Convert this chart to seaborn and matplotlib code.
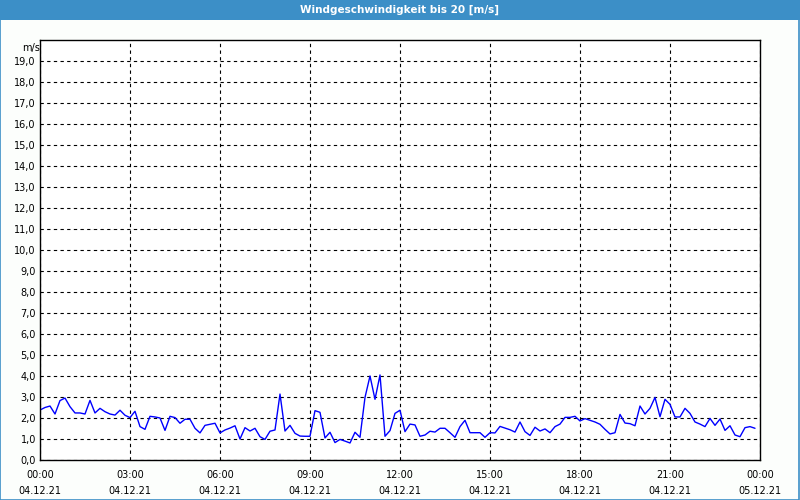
import numpy as np
import pandas as pd
import matplotlib
matplotlib.use("Agg")
import matplotlib.pyplot as plt
from matplotlib.ticker import MultipleLocator
import seaborn as sns

title = "Windgeschwindigkeit bis 20 [m/s]"
unit = "m/s"
x_tick_times = ["00:00", "03:00", "06:00", "09:00", "12:00", "15:00", "18:00", "21:00", "00:00"]
x_tick_dates = ["04.12.21"] * 8 + ["05.12.21"]

speed_00_08 = [2.38, 2.5, 2.57, 2.19, 2.83, 2.95, 2.54, 2.24, 2.24, 2.19, 2.84, 2.24, 2.46, 2.3, 2.19, 2.14, 2.37, 2.13,
               2.02, 2.32, 1.59, 1.46, 2.08, 2.05, 2.0, 1.41, 2.08, 2.02, 1.75, 1.94, 1.94, 1.51, 1.29, 1.65, 1.7, 1.75,
               1.29, 1.43, 1.52, 1.63, 1.0, 1.54, 1.38, 1.51, 1.11, 0.98, 1.37, 1.43]
speed_08_16 = [3.14, 1.38, 1.65, 1.27, 1.14, 1.13,
               1.13, 2.35, 2.27, 1.05, 1.32, 0.83, 0.98, 0.9, 0.81, 1.32, 1.08, 2.98, 4.0, 2.89, 4.05, 1.13, 1.4, 2.22,
               2.37, 1.35, 1.71, 1.67, 1.13, 1.19, 1.37, 1.33, 1.51, 1.51, 1.3, 1.08, 1.59, 1.89, 1.3, 1.3, 1.3, 1.08,
               1.3, 1.29, 1.6, 1.52, 1.44, 1.33]
speed_16_24 = [1.81, 1.35, 1.17, 1.56, 1.38, 1.48, 1.3, 1.59, 1.71, 2.03, 2.03, 2.08,
               1.86, 1.97, 1.89, 1.81, 1.7, 1.46, 1.24, 1.3, 2.17, 1.76, 1.73, 1.63, 2.57, 2.19, 2.46, 2.98, 2.06, 2.89,
               2.65, 2.05, 2.05, 2.46, 2.22, 1.81, 1.71, 1.59, 1.98, 1.65, 1.95, 1.41, 1.63, 1.19, 1.11, 1.54, 1.59, 1.51]

speed = speed_00_08 + speed_08_16 + speed_16_24
hours = [i / 6.0 for i in range(len(speed))]
df = pd.DataFrame({"h": hours, "v": speed})

sns.set_style("white")
plt.rcParams['font.family'] = ['DejaVu Sans']

fig = plt.figure(figsize=(8, 5), dpi=100, facecolor="#fcfefc")
ax = fig.add_axes([0.05, 0.08, 0.90, 0.84])
ax.set_facecolor("white")

sns.lineplot(data=df, x="h", y="v", ax=ax, color="#0000ff", linewidth=1.0)

ax.set_xlim(0, 24)
ax.set_ylim(0, 20)
ax.set_xlabel("")
ax.set_ylabel("")

ax.set_yticks(np.arange(0, 20, 1))
ax.set_yticklabels([f"{v:.1f}".replace(".", ",") for v in np.arange(0, 20, 1)], fontsize=7)
ax.set_xticks(np.arange(0, 25, 3))
ax.set_xticklabels([f"{t}\n{d}" for t, d in zip(x_tick_times, x_tick_dates)], fontsize=7, linespacing=1.8)
ax.xaxis.set_minor_locator(MultipleLocator(1))
ax.tick_params(axis="x", which="both", direction="out", length=3, width=0.8, color="black",
               labelcolor="black", pad=4)
ax.tick_params(axis="y", which="both", length=0, pad=3, labelcolor="black")

ax.grid(True, which="major", color="black", linestyle=(0, (3, 3)), linewidth=0.8)
for sp in ax.spines.values():
    sp.set_visible(True)
    sp.set_color("black")
    sp.set_linewidth(1.0)

ax.text(-0.004, 19.85, unit, transform=ax.transData, ha="right", va="top", fontsize=7, color="black")

# title bar
fig.patches.append(plt.Rectangle((0, 0.96), 1, 0.04, transform=fig.transFigure,
                                 facecolor="#3c8fc7", edgecolor="none", zorder=0))
fig.text(0.5, 0.98, title, ha="center", va="center", color="white", fontsize=7.5, fontweight="bold")
# outer border
fig.patches.append(plt.Rectangle((0.0005, 0.001), 0.998, 0.998, transform=fig.transFigure,
                                 facecolor="none", edgecolor="#3c8fc7", linewidth=1.2, zorder=0))

fig.savefig("out.png", dpi=100, facecolor=fig.get_facecolor())
